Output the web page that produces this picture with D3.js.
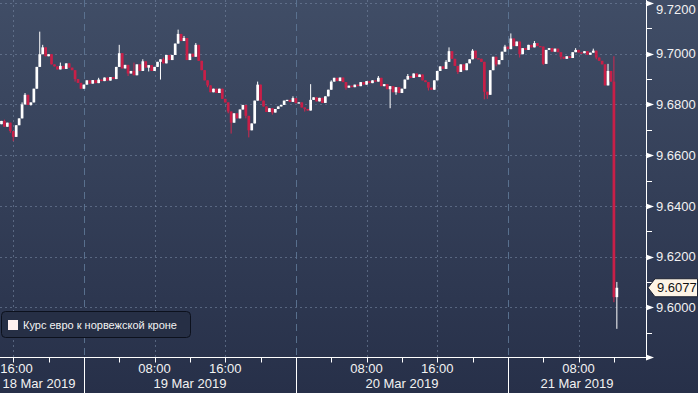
<!DOCTYPE html>
<html>
<head>
<meta charset="utf-8">
<script src="https://cdn.jsdelivr.net/npm/d3@7"></script>
<style>
  body { margin: 0; background: #2b3550; }
  svg text { font-family: "Liberation Sans", Arial, sans-serif; }
</style>
</head>
<body>
<div id="chart"></div>
<script>
// EUR/NOK, 20-minute candles from 18 Mar 2019 14:40
const seriesName = 'Курс евро к норвежской кроне';
const candleStart = Date.UTC(2019, 2, 18, 14, 40);
const candleMinutes = 20;
const firstOpen = 9.6722;
const closes = [
  9.6735, 9.6712, 9.6728, 9.6695, 9.6672, 9.6718, 9.6745, 9.6800, 9.6838, 9.6798,
  9.6808, 9.6862, 9.6948, 9.6998, 9.7025, 9.6990, 9.6998, 9.6958, 9.6950, 9.6938,
  9.6952, 9.6940, 9.6962, 9.6945, 9.6935, 9.6900, 9.6885, 9.6862, 9.6878, 9.6895,
  9.6882, 9.6896, 9.6884, 9.6898, 9.6892, 9.6906, 9.6894, 9.6908, 9.6900, 9.6948,
  9.7002, 9.6942, 9.6956, 9.6922, 9.6932, 9.6915, 9.6958, 9.6932, 9.6970, 9.6945,
  9.6955, 9.6932, 9.6948, 9.6968, 9.6978, 9.6962, 9.6995, 9.6975, 9.6995, 9.7040,
  9.7078, 9.7050, 9.7062, 9.6975, 9.7000, 9.6988, 9.7035, 9.6972, 9.6935, 9.6895,
  9.6875, 9.6848, 9.6862, 9.6845, 9.6862, 9.6822, 9.6808, 9.6772, 9.6728, 9.6765,
  9.6745, 9.6780, 9.6798, 9.6755, 9.6698, 9.6725, 9.6815, 9.6878, 9.6815, 9.6792,
  9.6770, 9.6785, 9.6768, 9.6782, 9.6792, 9.6798, 9.6815, 9.6818, 9.6810, 9.6825,
  9.6805, 9.6808, 9.6788, 9.6782, 9.6776, 9.6818, 9.6828, 9.6812, 9.6826, 9.6806,
  9.6832, 9.6858, 9.6890, 9.6905, 9.6892, 9.6906, 9.6888, 9.6866, 9.6874, 9.6868,
  9.6878, 9.6872, 9.6888, 9.6878, 9.6892, 9.6884, 9.6895, 9.6890, 9.6905, 9.6872,
  9.6880, 9.6860, 9.6872, 9.6848, 9.6868, 9.6845, 9.6862, 9.6898, 9.6912, 9.6905,
  9.6922, 9.6908, 9.6918, 9.6895, 9.6888, 9.6866, 9.6858, 9.6895, 9.6932, 9.6950,
  9.6940, 9.6968, 9.7010, 9.6980, 9.6952, 9.6928, 9.6958, 9.6935, 9.6962, 9.6978,
  9.7012, 9.6982, 9.6980, 9.6968, 9.6850, 9.6838, 9.6935, 9.6988, 9.6958, 9.6975,
  9.7008, 9.7028, 9.7018, 9.7060, 9.7030, 9.7048, 9.6998, 9.7022, 9.7015, 9.7035,
  9.7025, 9.7042, 9.7030, 9.7028, 9.6960, 9.7015, 9.7022, 9.7008, 9.7020, 9.7006,
  9.6988, 9.6980, 9.6990, 9.6983, 9.7006, 9.7015, 9.7005, 9.7002, 9.7010, 9.6996,
  9.7004, 9.7012, 9.6985, 9.6972, 9.6958, 9.6875, 9.6932, 9.6890, 9.6040, 9.6077
];
// candles whose wicks reach past the body (index -> price)
const highs = { 1: 9.6740, 7: 9.6808, 8: 9.6845, 13: 9.7087, 14: 9.7035, 20: 9.6965,
  33: 9.6905, 40: 9.7035, 45: 9.6965, 48: 9.6978, 55: 9.6985, 60: 9.7095, 62: 9.7070,
  66: 9.7042, 87: 9.6890, 99: 9.6832, 105: 9.6880, 112: 9.6895, 128: 9.6912, 138: 9.6920,
  151: 9.6975, 152: 9.7025, 160: 9.7018, 171: 9.7035, 173: 9.7080, 181: 9.7050,
  195: 9.7022, 201: 9.7020, 206: 9.6960, 208: 9.6990, 209: 9.6100 };
const lows = { 3: 9.6688, 4: 9.6655, 10: 9.6795, 25: 9.6890, 43: 9.6912, 50: 9.6930,
  54: 9.6898, 70: 9.6868, 77: 9.6765, 78: 9.6685, 83: 9.6745, 84: 9.6670, 92: 9.6760,
  103: 9.6772, 117: 9.6858, 132: 9.6785, 134: 9.6838, 145: 9.6855, 155: 9.6920,
  164: 9.6820, 165: 9.6822, 168: 9.6950, 176: 9.6985, 184: 9.6955, 190: 9.6978,
  202: 9.6978, 208: 9.6020, 209: 9.5915 };
const yTicks = [9.58, 9.60, 9.62, 9.64, 9.66, 9.68, 9.70, 9.72];
const lastPrice = 9.6077;

const W = 698, H = 393;
const plotRight = 646, plotBottom = 357.5;

const x = d3.scaleUtc()
  .domain([Date.UTC(2019, 2, 18, 14, 30), Date.UTC(2019, 2, 21, 15, 38)])
  .range([0, plotRight]);
const y = d3.scaleLinear()
  .domain([9.58, 9.72])
  .range([358, 3]);

// build candles, open = previous close
const candles = closes.map(function (c, i) {
  const o = i === 0 ? firstOpen : closes[i - 1];
  return {
    t: new Date(candleStart + i * candleMinutes * 60000),
    open: o, close: c,
    high: highs[i] !== undefined ? highs[i] : Math.max(o, c),
    low: lows[i] !== undefined ? lows[i] : Math.min(o, c)
  };
});

const svg = d3.select('#chart').append('svg')
  .attr('width', W)
  .attr('height', H);

const grad = svg.append('defs').append('linearGradient')
  .attr('id', 'bg').attr('x1', 0).attr('y1', 0).attr('x2', 0).attr('y2', 1);
grad.append('stop').attr('offset', '0%').attr('stop-color', '#404d66');
grad.append('stop').attr('offset', '100%').attr('stop-color', '#273049');

svg.append('rect').attr('width', W).attr('height', H).attr('fill', 'url(#bg)');

// horizontal grid
svg.append('g').selectAll('line')
  .data(yTicks.filter(function (d) { return d > 9.58; }))
  .enter().append('line')
  .attr('x1', 0).attr('x2', plotRight)
  .attr('y1', function (d) { return Math.round(y(d)) + 0.5; })
  .attr('y2', function (d) { return Math.round(y(d)) + 0.5; })
  .attr('stroke', '#7585a0').attr('stroke-opacity', 0.6)
  .attr('stroke-dasharray', '2,3');

// vertical grid: dotted at 08:00 / 16:00, dashed at midnight
const hours = d3.utcHour.every(8).range(x.domain()[0], x.domain()[1]);
svg.append('g').selectAll('line')
  .data(hours)
  .enter().append('line')
  .attr('x1', function (d) { return Math.round(x(d)) + 0.5; })
  .attr('x2', function (d) { return Math.round(x(d)) + 0.5; })
  .attr('y1', 0).attr('y2', plotBottom)
  .attr('stroke', function (d) { return d.getUTCHours() === 0 ? '#5d7594' : '#7585a0'; })
  .attr('stroke-opacity', function (d) { return d.getUTCHours() === 0 ? 0.9 : 0.6; })
  .attr('stroke-dasharray', function (d) { return d.getUTCHours() === 0 ? '7,5' : '2,3'; });

// candles
const bodyW = 2.7;
const cg = svg.append('g');
cg.selectAll('line.wick')
  .data(candles)
  .enter().append('line')
  .attr('class', 'wick')
  .attr('x1', function (d) { return x(d.t); })
  .attr('x2', function (d) { return x(d.t); })
  .attr('y1', function (d) { return y(d.high); })
  .attr('y2', function (d) { return y(d.low); })
  .attr('stroke', function (d) { return d.close >= d.open ? '#ffffff' : '#d0284f'; })
  .attr('stroke-width', 1);
cg.selectAll('rect.body')
  .data(candles)
  .enter().append('rect')
  .attr('class', 'body')
  .attr('x', function (d) { return x(d.t) - bodyW / 2; })
  .attr('width', bodyW)
  .attr('y', function (d) { return y(Math.max(d.open, d.close)); })
  .attr('height', function (d) { return Math.max(1.2, Math.abs(y(d.open) - y(d.close))); })
  .attr('fill', function (d) { return d.close >= d.open ? '#ffffff' : '#c81f48'; });

// y axis
const ya = svg.append('g');
ya.append('line')
  .attr('x1', plotRight + 0.5).attr('x2', plotRight + 0.5)
  .attr('y1', 0).attr('y2', plotBottom)
  .attr('stroke', '#ffffff');
ya.selectAll('line.minor')
  .data(yTicks.slice(1).map(function (d) { return d - 0.01; }))
  .enter().append('line')
  .attr('class', 'minor')
  .attr('x1', plotRight).attr('x2', plotRight + 6)
  .attr('y1', function (d) { return Math.round(y(d)) + 0.5; })
  .attr('y2', function (d) { return Math.round(y(d)) + 0.5; })
  .attr('stroke', '#ffffff');
ya.selectAll('path.mark')
  .data(yTicks)
  .enter().append('path')
  .attr('class', 'mark')
  .attr('d', function (d) {
    const yy = Math.min(Math.round(y(d)) + 0.5, plotBottom);
    return 'M' + plotRight + ',' + (yy - 3) + 'L' + (plotRight + 8) + ',' + yy + 'L' + plotRight + ',' + (yy + 3) + 'Z';
  })
  .attr('fill', '#ffffff');
ya.selectAll('text')
  .data(yTicks.filter(function (d) { return d > 9.58; }))
  .enter().append('text')
  .attr('x', plotRight + 10)
  .attr('y', function (d) { return Math.max(y(d), 9); })
  .attr('dy', '0.36em')
  .attr('fill', '#f2f2f2')
  .attr('font-size', 13)
  .text(function (d) { return d3.format('.4f')(d); });

// last price tag
const ly = y(lastPrice);
svg.append('path')
  .attr('d', 'M' + (plotRight + 2) + ',' + ly + 'L' + (plotRight + 9) + ',' + (ly - 9) +
    'L' + (W - 0.5) + ',' + (ly - 9) + 'L' + (W - 0.5) + ',' + (ly + 9) + 'L' + (plotRight + 9) + ',' + (ly + 9) + 'Z')
  .attr('fill', '#fdf4e6').attr('stroke', '#1b2030');
svg.append('text')
  .attr('x', plotRight + 11).attr('y', ly).attr('dy', '0.36em')
  .attr('fill', '#111111').attr('font-size', 13)
  .text(d3.format('.4f')(lastPrice));

// x axis
const xa = svg.append('g');
xa.append('line')
  .attr('x1', 0).attr('x2', plotRight)
  .attr('y1', plotBottom).attr('y2', plotBottom)
  .attr('stroke', '#ffffff');
const ticks4 = d3.utcHour.every(4).range(x.domain()[0], x.domain()[1]);
xa.selectAll('line.tick')
  .data(ticks4)
  .enter().append('line')
  .attr('class', 'tick')
  .attr('x1', function (d) { return Math.round(x(d)) + 0.5; })
  .attr('x2', function (d) { return Math.round(x(d)) + 0.5; })
  .attr('y1', plotBottom)
  .attr('y2', function (d) { return d.getUTCHours() === 0 ? H : plotBottom + 5; })
  .attr('stroke', '#ffffff');
const timeFmt = d3.utcFormat('%H:%M');
xa.selectAll('text.time')
  .data(hours.filter(function (d) { return d.getUTCHours() !== 0; }))
  .enter().append('text')
  .attr('class', 'time')
  .attr('x', function (d) { return Math.max(x(d), 16.5); })
  .attr('y', 373)
  .attr('text-anchor', 'middle')
  .attr('fill', '#f2f2f2')
  .attr('font-size', 13)
  .text(timeFmt);
const days = d3.utcDay.range(Date.UTC(2019, 2, 18), Date.UTC(2019, 2, 22));
const dateFmt = d3.utcFormat('%-d %b %Y');
xa.selectAll('text.date')
  .data(days)
  .enter().append('text')
  .attr('class', 'date')
  .attr('x', function (d) {
    const a = Math.max(0, x(d)), b = Math.min(plotRight, x(d3.utcDay.offset(d, 1)));
    return (a + b) / 2 - (x(d) < 0 ? 3 : 0);
  })
  .attr('y', 388)
  .attr('text-anchor', 'middle')
  .attr('fill', '#f2f2f2')
  .attr('font-size', 13)
  .text(dateFmt);

// legend
const lg = svg.append('g');
lg.append('rect')
  .attr('x', 1.5).attr('y', 311.5).attr('width', 189).attr('height', 26).attr('rx', 4)
  .attr('fill', '#262f45').attr('stroke', '#0c111d');
lg.append('rect')
  .attr('x', 8).attr('y', 320).attr('width', 10).attr('height', 10)
  .attr('fill', '#fff1ef');
lg.append('text')
  .attr('x', 23).attr('y', 329)
  .attr('fill', '#f2f2f2').attr('font-size', 11)
  .text(seriesName);
</script>
</body>
</html>
